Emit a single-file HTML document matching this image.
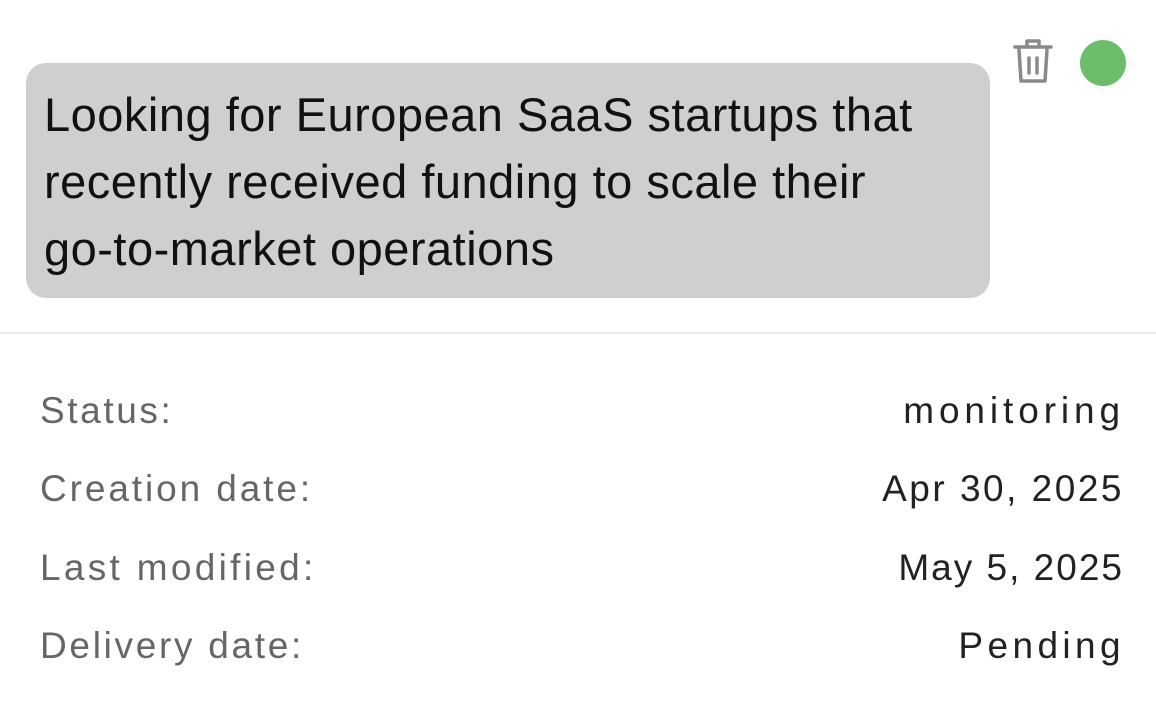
<!DOCTYPE html>
<html><head><style>
html,body{margin:0;padding:0;background:#fff;width:1156px;height:710px;overflow:hidden;font-family:"Liberation Sans",sans-serif;}
.bubble{position:absolute;left:26px;top:63px;width:964px;height:235px;background:#cfcfcf;border-radius:20px;}
.bt{position:absolute;left:44px;font-size:47px;color:#111;white-space:nowrap;letter-spacing:0.5px;line-height:1;}
.sep{position:absolute;left:0;top:332px;width:1156px;height:2px;background:#ebebeb;}
.lab{position:absolute;left:40px;font-size:37px;color:#666;white-space:nowrap;line-height:1;}
.val{position:absolute;font-size:37px;color:#222;white-space:nowrap;line-height:1;}
</style></head><body>
<div class="bubble"></div>
<div class="bt" style="top:91px">Looking for European SaaS startups that</div>
<div class="bt" style="top:158px">recently received funding to scale their</div>
<div class="bt" style="top:225px">go-to-market operations</div>
<svg style="position:absolute;left:1010px;top:36px" width="48" height="52" viewBox="0 0 48 52">
<g fill="none" stroke="#8a8a8a" stroke-width="3.5" stroke-linejoin="round" stroke-linecap="round">
<path d="M5 11 H41"/><path d="M17 11 V5 H29 V11"/><path d="M9 14 L11 45 H35 L37 14"/><path d="M19 22 V37"/><path d="M27 22 V37"/>
</g></svg>
<div style="position:absolute;left:1080px;top:40px;width:46px;height:46px;border-radius:50%;background:#6cbd69;"></div>
<div class="sep"></div>
<div class="lab" style="top:392px;letter-spacing:2.6px">Status:</div><div class="val" style="top:392px;right:31px;letter-spacing:4.9px">monitoring</div>
<div class="lab" style="top:470px;letter-spacing:2.9px">Creation date:</div><div class="val" style="top:470px;right:32px;letter-spacing:2.5px">Apr 30, 2025</div>
<div class="lab" style="top:549px;letter-spacing:3.3px">Last modified:</div><div class="val" style="top:549px;right:32px;letter-spacing:2px">May 5, 2025</div>
<div class="lab" style="top:627px;letter-spacing:2.7px">Delivery date:</div><div class="val" style="top:627px;right:31px;letter-spacing:4.4px">Pending</div>
</body></html>
